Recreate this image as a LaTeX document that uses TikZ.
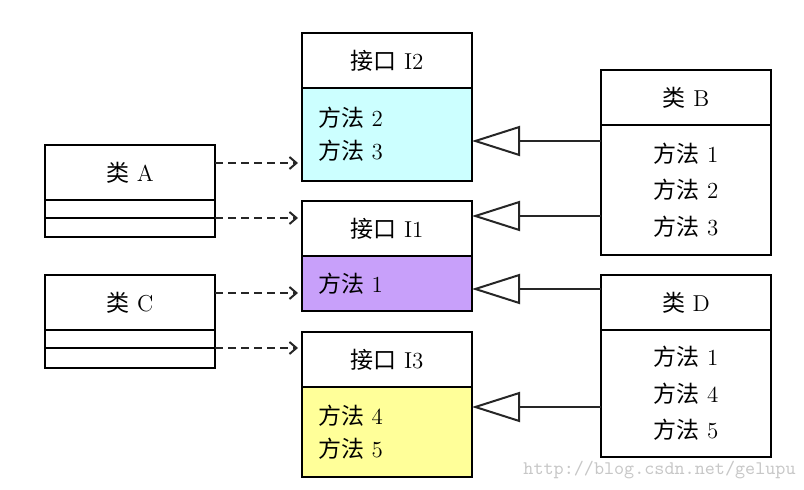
\documentclass[tikz,border=0pt]{standalone}
\usepackage{fontspec}
\usepackage{tikz}
\usepackage{xcolor}
\usetikzlibrary{positioning}
\usetikzlibrary{arrows.meta}
\newfontfamily\cjk{Noto Sans CJK SC}
\definecolor{fill-i2}{RGB}{204,255,255}
\definecolor{fill-i1}{RGB}{200,160,250}
\definecolor{fill-i3}{RGB}{255,255,153}

\begin{document}
\begin{tikzpicture}
[
x=1pt, y=1pt,
box-head/.style={rectangle, draw, line width=1pt, outer sep=0pt, minimum width=85pt, minimum height=27.5pt, inner sep=0pt, font=\fontsize{11.5}{13}\selectfont},
box-slot/.style={rectangle, draw, line width=1pt, outer sep=0pt, minimum width=85pt, inner sep=0pt},
box-iface/.style={rectangle, draw, line width=1pt, outer sep=0pt, inner xsep=8pt, inner ysep=0pt, text width=69pt, align=left, font=\fontsize{11.5}{16.5}\selectfont},
box-class/.style={rectangle, draw, line width=1pt, outer sep=0pt, minimum width=85pt, inner sep=0pt, align=center, font=\fontsize{11.5}{18.25}\selectfont},
link-dash/.style={draw=black!85, line width=1pt, dash pattern=on 4pt off 2.5pt, -{Straight Barb[length=3.5pt, width=6pt]}, shorten >=2pt},
link-gen/.style={draw=black!85, line width=1pt, -{Triangle[open, length=24pt, width=15pt]}},
text-mark/.style={text=black!22, font=\ttfamily\fontsize{9.6}{10}\selectfont, inner sep=0pt}
]
\useasboundingbox (0,0) rectangle (402,-245);
% classes on the left
\node (a-head)   [box-head, anchor=north west] at (22.5,-72.5) {{\cjk 类} A};
\node (a-slot-1) [box-slot, minimum height=9pt,   below = 0.0cm of a-head  ] {};
\node (a-slot-2) [box-slot, minimum height=9.5pt, below = 0.0cm of a-slot-1] {};
\node (c-head)   [box-head, anchor=north west] at (22.5,-137.5) {{\cjk 类} C};
\node (c-slot-1) [box-slot, minimum height=9pt,   below = 0.0cm of c-head  ] {};
\node (c-slot-2) [box-slot, minimum height=10pt,  below = 0.0cm of c-slot-1] {};
% interfaces
\node (i2-head)  [box-head, anchor=north west] at (151,-16.5) {{\cjk 接口} I2};
\node (i2-body)  [box-iface, fill=fill-i2, minimum height=46.5pt, below = 0.0cm of i2-head] {{\cjk 方法} 2\\{\cjk 方法} 3};
\node (i1-head)  [box-head, below = 10pt of i2-body] {{\cjk 接口} I1};
\node (i1-body)  [box-iface, fill=fill-i1, minimum height=27.5pt, below = 0.0cm of i1-head] {{\cjk 方法} 1};
\node (i3-head)  [box-head, below = 10.5pt of i1-body] {{\cjk 接口} I3};
\node (i3-body)  [box-iface, fill=fill-i3, minimum height=45pt, below = 0.0cm of i3-head] {{\cjk 方法} 4\\{\cjk 方法} 5};
% classes on the right
\node (b-head)   [box-head, anchor=north west] at (300.5,-35) {{\cjk 类} B};
\node (b-body)   [box-class, minimum height=65pt, below = 0.0cm of b-head] {{\cjk 方法} 1\\{\cjk 方法} 2\\{\cjk 方法} 3};
\node (d-head)   [box-head, anchor=north west] at (300.5,-137.5) {{\cjk 类} D};
\node (d-body)   [box-class, minimum height=63.5pt, below = 0.0cm of d-head] {{\cjk 方法} 1\\{\cjk 方法} 4\\{\cjk 方法} 5};
\node (mark)     [text-mark, anchor=base east] at (398,-237.5) {http://blog.csdn.net/gelupu};
% realization
\draw [link-dash] ([yshift=-9pt]a-head.north east) -- ([yshift=-9pt]a-head.north east -| i2-body.west);
\draw [link-dash] (a-slot-1.south east) -- (a-slot-1.south east -| i1-head.west);
\draw [link-dash] ([yshift=-9pt]c-head.north east) -- ([yshift=-9pt]c-head.north east -| i1-body.west);
\draw [link-dash] (c-slot-1.south east) -- (c-slot-1.south east -| i3-head.west);
% generalization
\draw [link-gen] ([yshift=-8pt]b-head.south west) -- ([yshift=-8pt]b-head.south west -| i2-body.east);
\draw [link-gen] ([yshift=-45.5pt]b-head.south west) -- ([yshift=-45.5pt]b-head.south west -| i1-head.east);
\draw [link-gen] ([yshift=-7pt]d-head.north west) -- ([yshift=-7pt]d-head.north west -| i1-body.east);
\draw [link-gen] ([yshift=-38.5pt]d-head.south west) -- ([yshift=-38.5pt]d-head.south west -| i3-body.east);
\end{tikzpicture}
\end{document}
